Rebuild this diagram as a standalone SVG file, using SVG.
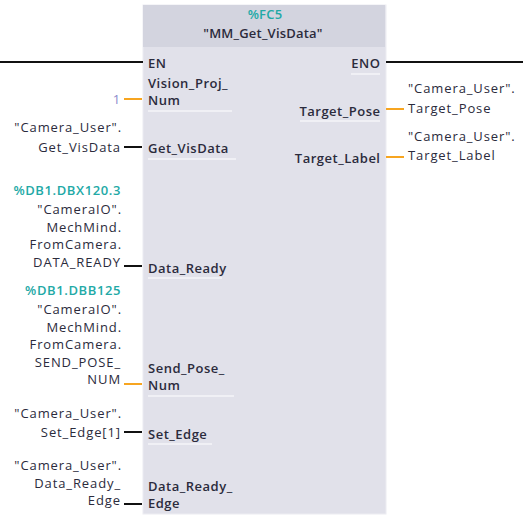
<svg xmlns="http://www.w3.org/2000/svg" width="523" height="530" viewBox="0 0 523 530">
<style>
text{font-family:"Open Sans","Noto Sans","Liberation Sans",sans-serif;font-size:13px;fill:#2b2b3c;letter-spacing:0.9px}
.pin{font-weight:600;letter-spacing:0.5px}
.r{text-anchor:end}
.teal{fill:#22a9a6;font-weight:600;letter-spacing:0.6px}
.c{text-anchor:middle;font-weight:600;letter-spacing:0.2px}
.w{stroke:#111;stroke-width:2;fill:none}
.o{stroke:#f7a520;stroke-width:2;fill:none}
.ul{stroke:#f4f4f8;stroke-width:1.5}
</style>
<rect width="523" height="530" fill="#fff"/>
<g id="block">
<rect x="143" y="5" width="243" height="509" fill="#e1e1ea" stroke="#ececf2" stroke-width="1"/>
<rect x="143" y="5" width="242" height="42" fill="#d3d4df"/>
<text x="265" y="19" class="teal" text-anchor="middle" style="letter-spacing:0.2px">%FC5</text>
<text x="263" y="38" class="c">"MM_Get_VisData"</text>
</g>
<g id="pins">
<text x="148" y="68" class="pin">EN</text>
<text x="148" y="88" class="pin">Vision_Proj_</text>
<text x="148" y="105" class="pin">Num</text>
<line x1="148" y1="111" x2="232" y2="111" class="ul"/>
<text x="148" y="153" class="pin">Get_VisData</text>
<line x1="148" y1="159" x2="236" y2="159" class="ul"/>
<text x="148" y="273" class="pin">Data_Ready</text>
<line x1="148" y1="278" x2="222" y2="278" class="ul"/>
<text x="148" y="373" class="pin">Send_Pose_</text>
<text x="148" y="390" class="pin">Num</text>
<line x1="148" y1="396" x2="234" y2="396" class="ul"/>
<text x="148" y="439" class="pin">Set_Edge</text>
<line x1="148" y1="444" x2="212" y2="444" class="ul"/>
<text x="148" y="491" class="pin">Data_Ready_</text>
<text x="148" y="508" class="pin">Edge</text>
<text x="380.5" y="68" class="pin r">ENO</text>
<line x1="351" y1="74" x2="380" y2="74" class="ul"/>
<text x="380.5" y="116" class="pin r">Target_Pose</text>
<line x1="300" y1="121" x2="380" y2="121" class="ul"/>
<text x="380.5" y="163" class="pin r">Target_Label</text>
</g>
<g id="connectors">
<line x1="0" y1="62" x2="143" y2="62" class="w"/>
<line x1="386" y1="62" x2="523" y2="62" class="w"/>
<line x1="124" y1="99" x2="142" y2="99" class="o"/>
<line x1="124" y1="147" x2="142" y2="147" class="w"/>
<line x1="124" y1="266" x2="142" y2="266" class="w"/>
<line x1="124" y1="384" x2="142" y2="384" class="o"/>
<line x1="124" y1="432" x2="142" y2="432" class="w"/>
<line x1="124" y1="504" x2="142" y2="504" class="w"/>
<line x1="386" y1="109" x2="404" y2="109" class="o"/>
<line x1="386" y1="157" x2="404" y2="157" class="o"/>
</g>
<g id="operands">
<text x="121" y="104" class="r" style="fill:#8a8acc">1</text>
<text x="122" y="132" class="r">"Camera_User".</text>
<text x="121" y="152" class="r">Get_VisData</text>
<text x="121" y="195" class="r teal">%DB1.DBX120.3</text>
<text x="122" y="214" class="r">"CameraIO".</text>
<text x="122" y="232" class="r">MechMind.</text>
<text x="122" y="249" class="r">FromCamera.</text>
<text x="121" y="267" class="r">DATA_READY</text>
<text x="121" y="295" class="r teal">%DB1.DBB125</text>
<text x="122" y="314" class="r">"CameraIO".</text>
<text x="122" y="332" class="r">MechMind.</text>
<text x="122" y="349" class="r">FromCamera.</text>
<text x="121" y="367" class="r">SEND_POSE_</text>
<text x="121" y="384" class="r">NUM</text>
<text x="122" y="418" class="r">"Camera_User".</text>
<text x="121" y="437" class="r">Set_Edge[1]</text>
<text x="122" y="470" class="r">"Camera_User".</text>
<text x="121" y="488" class="r">Data_Ready_</text>
<text x="121" y="505" class="r">Edge</text>
<text x="408" y="93">"Camera_User".</text>
<text x="408" y="113">Target_Pose</text>
<text x="408" y="141">"Camera_User".</text>
<text x="408" y="160">Target_Label</text>
</g>
</svg>
